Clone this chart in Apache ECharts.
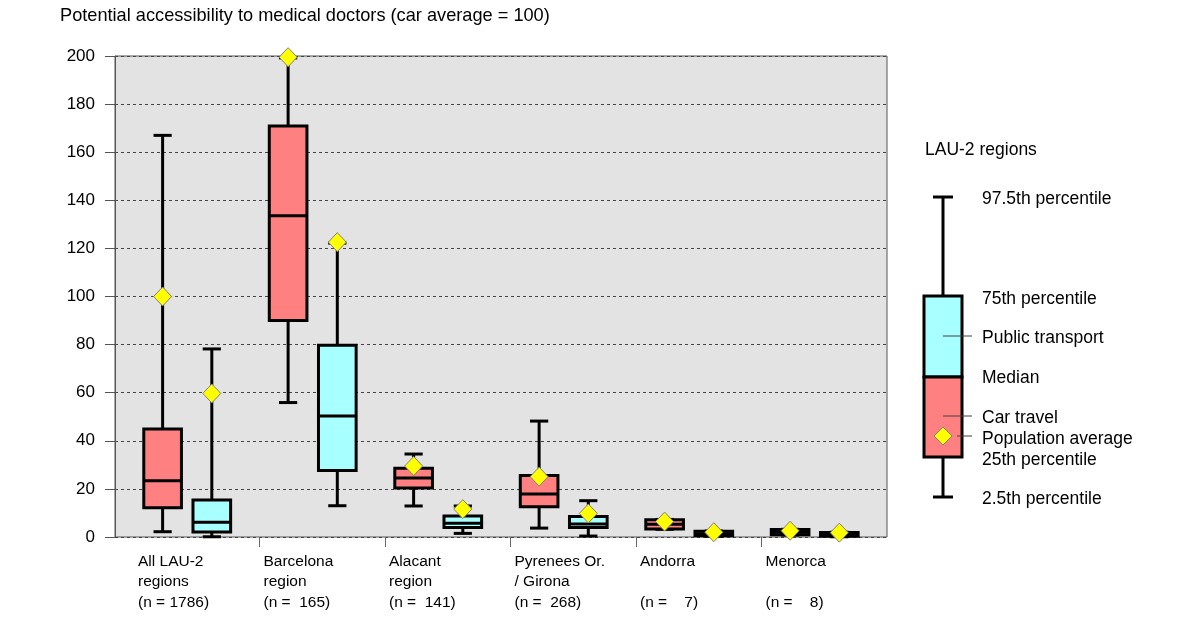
<!DOCTYPE html>
<html>
<head>
<meta charset="utf-8">
<script src="https://cdn.jsdelivr.net/npm/echarts@6/dist/echarts.min.js"></script>
<style>
  html, body { margin: 0; padding: 0; background: #ffffff; }
  #chart { width: 1204px; height: 619px; }
</style>
</head>
<body>
<div id="chart"></div>
<script>
// Region labels (three lines each)
const categories = [
  'All LAU-2\nregions\n(n = 1786)',
  'Barcelona\nregion\n(n =  165)',
  'Alacant\nregion\n(n =  141)',
  'Pyrenees Or.\n/ Girona\n(n =  268)',
  'Andorra\n\n(n =    7)',
  'Menorca\n\n(n =    8)'
];

// Car travel: 2.5th, 25th, median, 75th, 97.5th percentile and population average
const carLow    = [2.2, 55.9, 12.9, 3.7, 3.2, 0.8];
const carQ1     = [12.2, 90.0, 20.4, 12.6, 3.3, 0.9];
const carMedian = [23.4, 133.6, 24.5, 17.9, 5.3, 2.0];
const carQ3     = [44.9, 170.9, 28.6, 25.6, 7.2, 3.1];
const carHigh   = [167.0, 199.2, 34.5, 48.2, 7.3, 3.2];
const carMean   = [100.0, 199.5, 29.5, 25.1, 6.4, 2.6];

// Public transport: same statistics
const ptLow    = [0.1, 13.0, 1.5, 0.4, 0.3, 0.1];
const ptQ1     = [2.1, 27.6, 4.0, 3.9, 0.5, 0.3];
const ptMedian = [6.1, 50.3, 5.7, 5.4, 1.4, 1.1];
const ptQ3     = [15.4, 79.7, 8.7, 8.5, 2.4, 1.9];
const ptHigh   = [78.2, 122.2, 12.9, 15.1, 2.5, 2.0];
const ptMean   = [59.7, 122.6, 11.6, 9.8, 2.0, 1.8];

const yTicks = [0, 20, 40, 60, 80, 100, 120, 140, 160, 180, 200];

const FONT = '"Liberation Sans", Arial, sans-serif';
const CAR_FILL = '#ff8080';
const PT_FILL = '#a8ffff';
const MEAN_FILL = '#ffff00';

function rows(low, q1, med, q3, high, mean) {
  return categories.map((c, i) => [i, low[i], q1[i], med[i], q3[i], high[i], mean[i]]);
}

// Box-and-whisker with diamond for the average; offset is a fraction of the band width
function makeRenderer(offset, fill) {
  return function (params, api) {
    const i = api.value(0);
    const band = api.size([1, 0])[0];
    const cx = api.coord([i, 0])[0] + offset * band;
    const boxW = 0.3 * band;
    const capW = 0.145 * band;
    const y = k => api.coord([i, api.value(k)])[1];
    const yLow = y(1), yQ1 = y(2), yMed = y(3), yQ3 = y(4), yHigh = y(5), yMean = y(6);
    const line = (x1, y1, x2, y2) => ({
      type: 'line',
      shape: { x1, y1, x2, y2 },
      style: { stroke: '#000', lineWidth: 3 }
    });
    const d = 9;
    return {
      type: 'group',
      children: [
        line(cx, yLow, cx, yQ1),
        line(cx, yQ3, cx, yHigh),
        line(cx - capW / 2, yLow, cx + capW / 2, yLow),
        line(cx - capW / 2, yHigh, cx + capW / 2, yHigh),
        {
          type: 'rect',
          shape: { x: cx - boxW / 2, y: yQ3, width: boxW, height: yQ1 - yQ3 },
          style: { fill: fill, stroke: '#000', lineWidth: 3 }
        },
        line(cx - boxW / 2, yMed, cx + boxW / 2, yMed),
        {
          type: 'polygon',
          shape: { points: [[cx, yMean - d - 0.5], [cx + d, yMean], [cx, yMean + d + 0.5], [cx - d, yMean]] },
          style: { fill: MEAN_FILL, stroke: '#808080', lineWidth: 1 }
        }
      ]
    };
  };
}

// Key on the right: a sample box with its annotations
const keyX = 943;
const keyTextX = 982;
function keyLine(x1, y1, x2, y2, w, c) {
  return { type: 'line', shape: { x1, y1, x2, y2 }, style: { stroke: c, lineWidth: w }, z: 10 };
}
function keyText(text, x, y) {
  return { type: 'text', x: x, y: y, style: { text: text, font: '17.5px ' + FONT, fill: '#000', verticalAlign: 'middle', align: 'left' }, z: 10 };
}
const keyGraphics = [
  keyText('LAU-2 regions', 925, 150),
  keyLine(keyX, 197, keyX, 497, 3, '#000'),
  keyLine(keyX - 10, 197, keyX + 10, 197, 3, '#000'),
  keyLine(keyX - 10, 497, keyX + 10, 497, 3, '#000'),
  { type: 'rect', shape: { x: keyX - 19, y: 296, width: 38, height: 81 }, style: { fill: PT_FILL, stroke: '#000', lineWidth: 3 }, z: 10 },
  { type: 'rect', shape: { x: keyX - 19, y: 377, width: 38, height: 80 }, style: { fill: CAR_FILL, stroke: '#000', lineWidth: 3 }, z: 10 },
  keyLine(keyX, 336, keyX + 29, 336, 1, '#404040'),
  keyLine(keyX, 416, keyX + 29, 416, 1, '#404040'),
  keyLine(keyX + 14, 436, keyX + 29, 436, 1, '#404040'),
  { type: 'polygon', shape: { points: [[keyX, 427], [keyX + 9, 436], [keyX, 445], [keyX - 9, 436]] }, style: { fill: MEAN_FILL, stroke: '#808080', lineWidth: 1 }, z: 11 },
  keyText('97.5th percentile', keyTextX, 199),
  keyText('75th percentile', keyTextX, 299),
  keyText('Public transport', keyTextX, 338),
  keyText('Median', keyTextX, 378),
  keyText('Car travel', keyTextX, 418),
  keyText('Population average', keyTextX, 439),
  keyText('25th percentile', keyTextX, 460),
  keyText('2.5th percentile', keyTextX, 499)
];

const chart = echarts.init(document.getElementById('chart'), null, { renderer: 'canvas' });

chart.setOption({
  animation: false,
  backgroundColor: '#ffffff',
  textStyle: { fontFamily: FONT },
  title: {
    text: 'Potential accessibility to medical doctors (car average = 100)',
    left: 60,
    top: 7,
    padding: 0,
    textStyle: { fontFamily: FONT, fontSize: 18.2, fontWeight: 'normal', color: '#000' }
  },
  grid: [
    // framed plot area with the value axis
    { left: 115, right: 317, top: 56, bottom: 82, show: true, backgroundColor: '#e3e3e3', borderColor: '#555555', borderWidth: 1 },
    // region bands
    { left: 134, right: 317, top: 56, bottom: 82 }
  ],
  xAxis: [
    { type: 'category', gridIndex: 1, data: categories, boundaryGap: true, show: false },
    {
      type: 'category', gridIndex: 1, position: 'bottom', data: categories.concat(['']), boundaryGap: false,
      axisLine: { show: false },
      axisTick: { show: true, length: 10, interval: (idx) => idx >= 1 && idx <= 5, lineStyle: { color: '#666666', width: 1 } },
      axisLabel: { interval: 0, align: 'left', padding: [0, 0, 0, 4], margin: 14, fontFamily: FONT, fontSize: 15.5, lineHeight: 20.5, color: '#000' },
      splitLine: { show: false }
    },
    { type: 'value', gridIndex: 0, show: false, min: 0, max: 1 }
  ],
  yAxis: [
    {
      type: 'value', gridIndex: 0, min: yTicks[0], max: yTicks[yTicks.length - 1], interval: 20,
      axisLine: { show: true, lineStyle: { color: '#555555', width: 1 } },
      axisTick: { show: true, length: 10, lineStyle: { color: '#555555' } },
      axisLabel: { margin: 20, fontFamily: FONT, fontSize: 17, color: '#000' },
      splitLine: { show: true, lineStyle: { color: '#444444', type: [3, 3], width: 1 } }
    },
    { type: 'value', gridIndex: 1, min: yTicks[0], max: yTicks[yTicks.length - 1], show: false, splitLine: { show: false } }
  ],
  series: [
    {
      name: 'Car travel', type: 'custom', xAxisIndex: 0, yAxisIndex: 1, clip: false, z: 3,
      encode: { x: 0, y: [1, 2, 3, 4, 5, 6] },
      renderItem: makeRenderer(-0.272, CAR_FILL),
      data: rows(carLow, carQ1, carMedian, carQ3, carHigh, carMean)
    },
    {
      name: 'Public transport', type: 'custom', xAxisIndex: 0, yAxisIndex: 1, clip: false, z: 3,
      encode: { x: 0, y: [1, 2, 3, 4, 5, 6] },
      renderItem: makeRenderer(0.12, PT_FILL),
      data: rows(ptLow, ptQ1, ptMedian, ptQ3, ptHigh, ptMean)
    }
  ],
  graphic: keyGraphics
});
</script>
</body>
</html>
